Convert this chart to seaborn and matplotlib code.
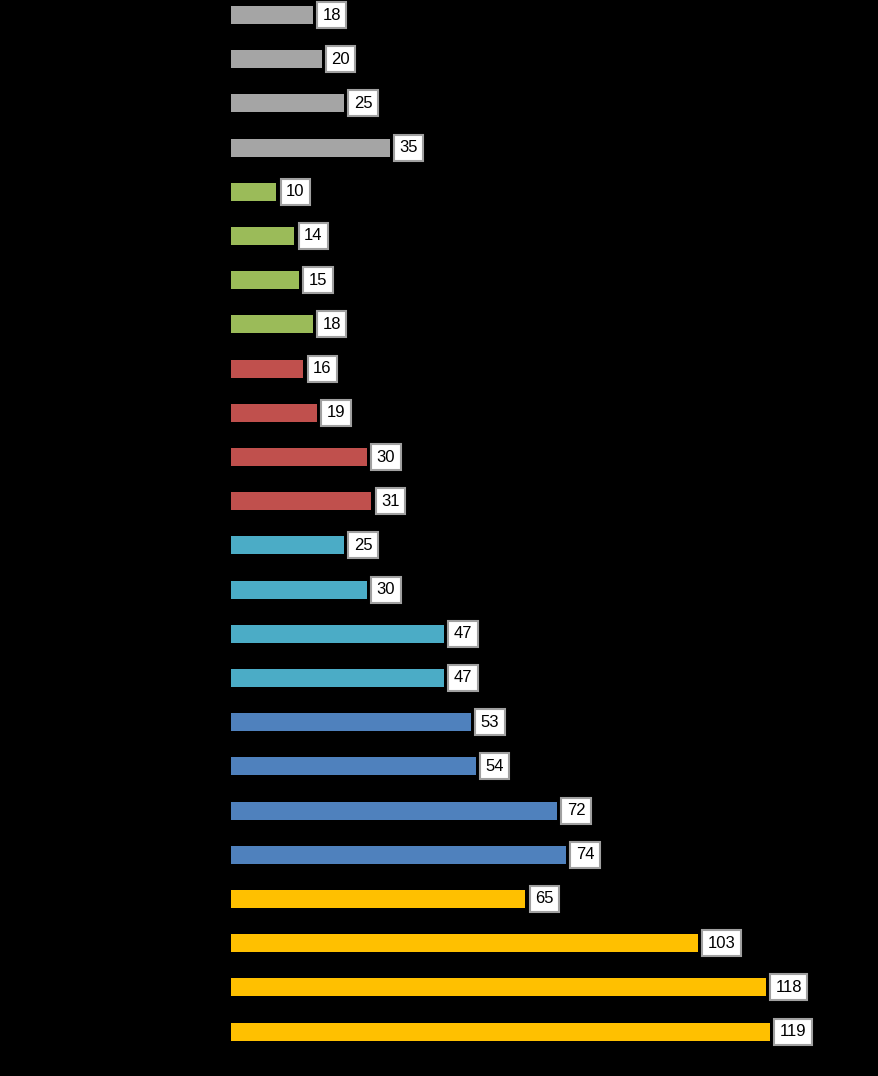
import seaborn as sns
import matplotlib.pyplot as plt
import pandas as pd

# values per row, top to bottom
values = [18, 20, 25, 35,
          10, 14, 15, 18,
          16, 19, 30, 31,
          25, 30, 47, 47,
          53, 54, 72, 74,
          65, 103, 118, 119]
groups = ['A'] * 4 + ['B'] * 4 + ['C'] * 4 + ['D'] * 4 + ['E'] * 4 + ['F'] * 4
rows = [str(i) for i in range(len(values))]
group_colors = {'A': '#A5A5A5', 'B': '#9BBB59', 'C': '#C0504D',
                'D': '#4BACC6', 'E': '#4F81BD', 'F': '#FFC000'}

df = pd.DataFrame({'row': rows, 'value': values, 'group': groups})

plt.rcParams['font.family'] = ['Liberation Sans', 'DejaVu Sans']
fig = plt.figure(figsize=(8.79, 10.76), dpi=100, facecolor='black')
ax = fig.add_axes([231 / 879, 0, 1 - 231 / 879, 1])
ax.set_facecolor('black')

sns.barplot(data=df, y='row', x='value', hue='group', palette=group_colors,
            saturation=1, dodge=False, width=0.41, legend=False, ax=ax, orient='h')

for i, v in enumerate(values):
    ax.annotate(str(v), xy=(v, i), xytext=(7, 0), textcoords='offset points',
                va='center', ha='left', fontsize=12, color='black',
                bbox=dict(boxstyle='square,pad=0.33', fc='white', ec='#A0A0A0', lw=1.5))

ax.set_xlim(0, 648 / 4.53)
ax.set_ylim(1061 / 44.2, -15 / 44.2)
ax.set_xticks([])
ax.set_yticks([])
ax.set_xlabel('')
ax.set_ylabel('')
for s in ax.spines.values():
    s.set_visible(False)

fig.savefig('out.png', dpi=100, facecolor='black')
